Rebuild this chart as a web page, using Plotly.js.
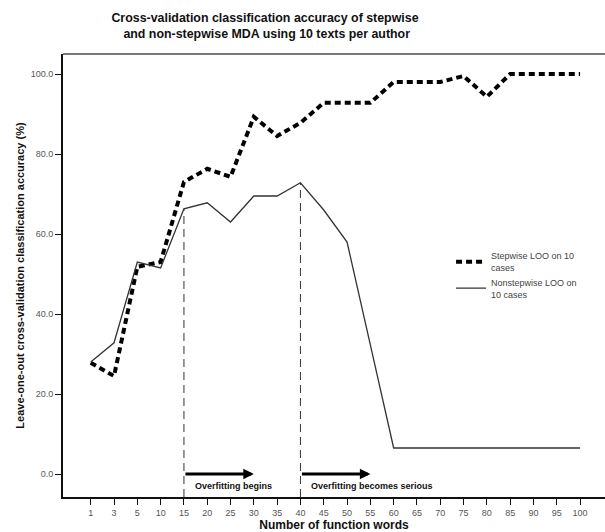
<!DOCTYPE html>
<html>
<head>
<meta charset="utf-8">
<script src="https://cdn.plot.ly/plotly-3.0.1.min.js"></script>
<style>html,body{margin:0;padding:0;background:#fff;}#chart{width:605px;height:532px;}</style>
</head>
<body>
<div id="chart"></div>
<script>
const categories = ['1','3','5','10','15','20','25','30','35','40','45','50','55','60','65','70','75','80','85','90','95','100'];
const stepwise =    [27.8, 24.5, 51.8, 53.0, 73.0, 76.3, 74.3, 89.3, 84.5, 87.8, 92.8, 92.8, 92.8, 98.0, 98.0, 98.0, 99.5, 94.3, 100, 100, 100, 100];
const nonstepwise = [28.0, 32.8, 53.0, 51.5, 66.3, 67.8, 63.0, 69.5, 69.5, 72.8, 66.0, 58.0, 32.3, 6.5, 6.5, 6.5, 6.5, 6.5, 6.5, 6.5, 6.5, 6.5];
const stepwiseName = 'Stepwise LOO on 10<br>cases';
const nonstepwiseName = 'Nonstepwise LOO on<br>10 cases';
const markers = [
  {from: '15', to: '30', label: 'Overfitting begins'},
  {from: '40', to: '55', label: 'Overfitting becomes serious'}
];

const Y_MIN = -5.75, Y_MAX = 105;
const idx = c => categories.indexOf(c);

const traces = [
  {x: categories, y: stepwise, type: 'scatter', mode: 'lines', name: stepwiseName,
   line: {color: '#000', width: 4, dash: '6px,4px'}},
  {x: categories, y: nonstepwise, type: 'scatter', mode: 'lines', name: nonstepwiseName,
   line: {color: '#333', width: 1.3}}
];

const shapes = markers.map(m => ({
  type: 'line', xref: 'x', yref: 'y',
  x0: idx(m.from), x1: idx(m.from), y0: Y_MIN, y1: nonstepwise[idx(m.from)],
  line: {color: '#333', width: 1, dash: '8px,5px'}
}));
shapes.push({type: 'line', xref: 'paper', yref: 'paper', x0: 0, x1: 1, y0: 1, y1: 1,
  line: {color: '#777', width: 2}});

const annotations = [];
markers.forEach(m => {
  annotations.push({xref: 'x', yref: 'y', axref: 'x', ayref: 'y',
    x: idx(m.to), y: 0, ax: idx(m.from), ay: 0, text: '', showarrow: true,
    arrowhead: 2, arrowsize: 0.7, arrowwidth: 3, arrowcolor: '#000'});
  annotations.push({xref: 'x', yref: 'y', x: idx(m.from), y: 0, xanchor: 'left', yanchor: 'middle',
    xshift: 9, yshift: -12, text: m.label, showarrow: false,
    font: {family: 'Liberation Sans, Arial, sans-serif', size: 9, color: '#111', weight: 'bold'}});
});

const layout = {
  width: 605, height: 532,
  margin: {l: 63, r: 0, t: 54, b: 35},
  paper_bgcolor: '#fff', plot_bgcolor: '#fff',
  font: {family: 'Liberation Sans, Arial, sans-serif', color: '#555', size: 9},
  title: {text: '<b>Cross-validation classification accuracy of stepwise<br> and non-stepwise MDA using 10 texts per author</b>',
    x: 0.438, xanchor: 'center', y: 0.959, yanchor: 'top',
    font: {family: 'Liberation Sans, Arial, sans-serif', size: 12.4, color: '#111'}},
  xaxis: {type: 'category', range: [-1.19, 22.07], showgrid: false, zeroline: false,
    showline: true, linecolor: '#111', linewidth: 2,
    ticks: 'outside', ticklen: 6, tickcolor: '#111', tickwidth: 1,
    tickfont: {size: 9, color: '#555'},
    title: {text: '<b>Number of function words</b>', standoff: 4,
      font: {size: 12, color: '#111'}}},
  yaxis: {range: [Y_MIN, Y_MAX], tickvals: [0, 20, 40, 60, 80, 100], tickformat: '.1f',
    showgrid: false, zeroline: false, showline: true, linecolor: '#111', linewidth: 2,
    ticks: 'outside', ticklen: 6, tickcolor: '#111', tickwidth: 1,
    tickfont: {size: 9, color: '#555'},
    title: {text: '<b>Leave-one-out cross-validation classification accuracy (%)</b>', standoff: 4,
      font: {size: 11, color: '#111'}}},
  showlegend: true,
  legend: {x: 0.716, y: 0.572, xanchor: 'left', yanchor: 'top', bgcolor: 'rgba(0,0,0,0)',
    font: {size: 9, color: '#444'}, itemwidth: 30, tracegroupgap: 0, valign: 'middle'},
  shapes: shapes,
  annotations: annotations
};

Plotly.newPlot('chart', traces, layout, {displayModeBar: false, staticPlot: true});
</script>
</body>
</html>
